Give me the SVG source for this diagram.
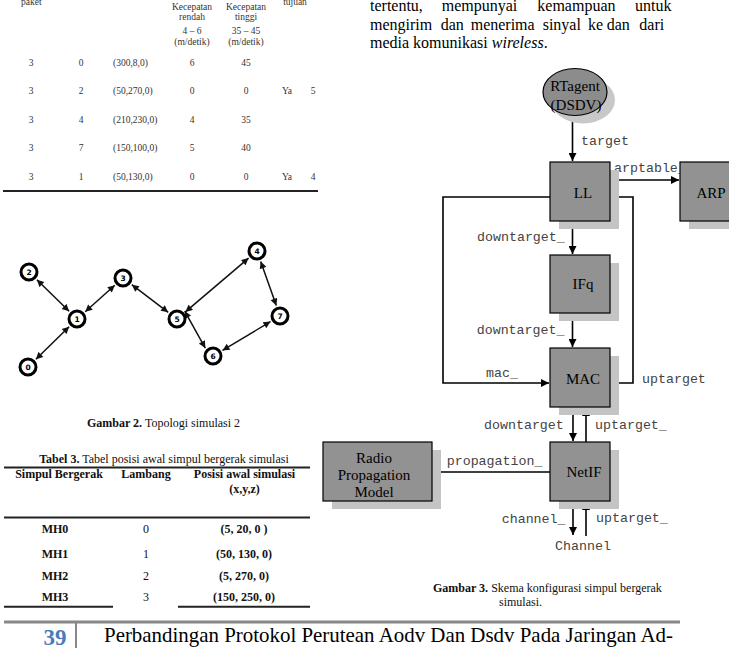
<svg xmlns="http://www.w3.org/2000/svg" width="729" height="648" viewBox="0 0 729 648">
<defs>
<marker id="ah" viewBox="0 0 10 10" refX="10" refY="5" markerWidth="9" markerHeight="8" markerUnits="userSpaceOnUse" orient="auto-start-reverse"><path d="M0,0 L10,5 L0,10 z" fill="#000"/></marker>
<marker id="ahs" viewBox="0 0 10 10" refX="10" refY="5" markerWidth="8" markerHeight="7" markerUnits="userSpaceOnUse" orient="auto-start-reverse"><path d="M0,0 L10,5 L0,10 z" fill="#111"/></marker>
</defs>
<style>
.serif{font-family:"Liberation Serif","Times New Roman",serif}
.tt{font-family:"Liberation Serif",serif;font-size:9.5px;fill:#333}
.mono{font-family:"Liberation Mono","Courier New",monospace;font-size:13.3px;fill:#444}
.box{fill:#929292;stroke:#000;stroke-width:1.2}
.shadow{fill:#c4c4c4}
.bl{font-family:"Liberation Serif",serif;font-size:15px;fill:#000;text-anchor:middle}
.conn{fill:none;stroke:#000;stroke-width:1.6}
.tedge{stroke:#111;stroke-width:1.5;marker-start:url(#ahs);marker-end:url(#ahs)}
.node circle{fill:#fff;stroke:#000;stroke-width:3}
.node text{font-family:"DejaVu Sans",sans-serif;font-size:7.5px;font-weight:bold;text-anchor:middle}
.rule{stroke:#222;stroke-width:2}
.cap{font-family:"Liberation Serif",serif;font-size:12px;fill:#111}
.t3{font-family:"Liberation Serif",serif;font-size:12px;fill:#111;text-anchor:middle}
</style>

<!-- top table fragment -->
<g id="table2">
<text class="tt" x="21" y="5">paket</text>
<text class="tt" x="295" y="5" text-anchor="middle">tujuan</text>
<g text-anchor="middle">
<text class="tt" x="192" y="10">Kecepatan</text>
<text class="tt" x="192" y="20">rendah</text>
<text class="tt" x="192" y="34">4 – 6</text>
<text class="tt" x="192" y="45">(m/detik)</text>
<text class="tt" x="246" y="10">Kecepatan</text>
<text class="tt" x="246" y="20">tinggi</text>
<text class="tt" x="246" y="34">35 – 45</text>
<text class="tt" x="246" y="45">(m/detik)</text>
<text class="tt" x="31" y="66">3</text><text class="tt" x="81" y="66">0</text><text class="tt" x="192" y="66">6</text><text class="tt" x="246" y="66">45</text>
<text class="tt" x="31" y="94">3</text><text class="tt" x="81" y="94">2</text><text class="tt" x="192" y="94">0</text><text class="tt" x="246" y="94">0</text><text class="tt" x="287" y="94">Ya</text><text class="tt" x="313" y="94">5</text>
<text class="tt" x="31" y="123">3</text><text class="tt" x="81" y="123">4</text><text class="tt" x="192" y="123">4</text><text class="tt" x="246" y="123">35</text>
<text class="tt" x="31" y="151">3</text><text class="tt" x="81" y="151">7</text><text class="tt" x="192" y="151">5</text><text class="tt" x="246" y="151">40</text>
<text class="tt" x="31" y="180">3</text><text class="tt" x="81" y="180">1</text><text class="tt" x="192" y="180">0</text><text class="tt" x="246" y="180">0</text><text class="tt" x="287" y="180">Ya</text><text class="tt" x="313" y="180">4</text>
</g>
<text class="tt" x="113" y="66">(300,8,0)</text>
<text class="tt" x="113" y="94">(50,270,0)</text>
<text class="tt" x="113" y="123">(210,230,0)</text>
<text class="tt" x="113" y="151">(150,100,0)</text>
<text class="tt" x="113" y="180">(50,130,0)</text>
<line class="rule" x1="3" y1="191" x2="318" y2="191"/>
</g>

<!-- topology -->
<g id="topo-edges">
<line class="tedge" x1="36.9" y1="279.7" x2="69.1" y2="311.3"/>
<line class="tedge" x1="69.1" y1="326.7" x2="35.9" y2="359.3"/>
<line class="tedge" x1="85.2" y1="311.7" x2="114.8" y2="285.3"/>
<line class="tedge" x1="131.8" y1="284.7" x2="168.2" y2="312.3"/>
<line class="tedge" x1="185.4" y1="311.9" x2="248.6" y2="258.1"/>
<line class="tedge" x1="260.7" y1="261.4" x2="276.3" y2="305.6"/>
<line class="tedge" x1="270.5" y1="321.6" x2="222.5" y2="350.4"/>
<line class="tedge" x1="205.3" y1="348.1" x2="184.7" y2="311.1"/>
</g>
<g id="tn2" class="node"><circle cx="29" cy="272" r="8"/><text x="29" y="275">2</text></g>
<g id="tn1" class="node"><circle cx="77" cy="319" r="8"/><text x="77" y="322">1</text></g>
<g id="tn0" class="node"><circle cx="28" cy="367" r="8"/><text x="28" y="370">0</text></g>
<g id="tn3" class="node"><circle cx="123" cy="278" r="8"/><text x="123" y="281">3</text></g>
<g id="tn5" class="node"><circle cx="177" cy="319" r="8"/><text x="177" y="322">5</text></g>
<g id="tn4" class="node"><circle cx="257" cy="251" r="8"/><text x="257" y="254">4</text></g>
<g id="tn7" class="node"><circle cx="280" cy="316" r="8"/><text x="280" y="319">7</text></g>
<g id="tn6" class="node"><circle cx="213" cy="356" r="8"/><text x="213" y="359">6</text></g>
<text class="cap" x="87" y="427"><tspan font-weight="bold">Gambar 2.</tspan>  Topologi simulasi 2</text>

<!-- table 3 -->
<g id="table3">
<text class="t3" x="164" y="463"><tspan font-weight="bold">Tabel 3.</tspan> Tabel posisi awal simpul bergerak simulasi</text>
<line class="rule" x1="4" y1="467.5" x2="310" y2="467.5"/>
<g font-weight="bold">
<text class="t3" x="59" y="478">Simpul Bergerak</text>
<text class="t3" x="146" y="478">Lambang</text>
<text class="t3" x="244.5" y="478">Posisi awal simulasi</text>
<text class="t3" x="244.5" y="493">(x,y,z)</text>
</g>
<line class="rule" x1="4" y1="517.5" x2="310" y2="517.5"/>
<g font-weight="bold">
<text class="t3" x="55" y="533">MH0</text><text class="t3" x="244" y="533">(5, 20, 0 )</text>
<text class="t3" x="55" y="558">MH1</text><text class="t3" x="244" y="558">(50, 130, 0)</text>
<text class="t3" x="55" y="580">MH2</text><text class="t3" x="244" y="580">(5, 270, 0)</text>
<text class="t3" x="55" y="601">MH3</text><text class="t3" x="244" y="601">(150, 250, 0)</text>
</g>
<text class="t3" x="146" y="533" fill="#444">0</text>
<text class="t3" x="146" y="558" fill="#444">1</text>
<text class="t3" x="146" y="580" fill="#444">2</text>
<text class="t3" x="146" y="601" fill="#444">3</text>
<line class="rule" x1="4" y1="606.7" x2="113" y2="606.7"/>
<line class="rule" x1="178" y1="606.7" x2="310" y2="606.7"/>
</g>

<!-- paragraph -->
<g class="serif" font-size="16" fill="#000">
<text y="11"><tspan x="370">tertentu,</tspan><tspan x="441.7">mempunyai</tspan><tspan x="537.3">kemampuan</tspan><tspan x="635">untuk</tspan></text>
<text y="29.5"><tspan x="370">mengirim</tspan><tspan x="440.7">dan</tspan><tspan x="470.7">menerima</tspan><tspan x="542.7">sinyal</tspan><tspan x="588">ke</tspan><tspan x="606.7">dan</tspan><tspan x="639.3">dari</tspan></text>
<text x="370" y="48">media komunikasi <tspan font-style="italic">wireless</tspan>.</text>
</g>

<!-- config diagram -->
<g id="connectors">
<line class="conn" x1="572.5" y1="115" x2="572.5" y2="161" marker-end="url(#ah)"/>
<line class="conn" x1="610" y1="180" x2="679" y2="180" marker-end="url(#ah)"/>
<path class="conn" d="M550,197 H443 V383 H549" marker-end="url(#ah)"/>
<path class="conn" d="M610,383 H633 V197 H611" marker-end="url(#ah)"/>
<line class="conn" x1="572.5" y1="221" x2="572.5" y2="254" marker-end="url(#ah)"/>
<line class="conn" x1="572.5" y1="313" x2="572.5" y2="347" marker-end="url(#ah)"/>
<line class="conn" x1="573" y1="407" x2="573" y2="441" marker-end="url(#ah)"/>
<line class="conn" x1="586" y1="442" x2="586" y2="408" marker-end="url(#ah)"/>
<line class="conn" x1="550" y1="472" x2="433" y2="472" marker-end="url(#ah)"/>
<line class="conn" x1="573" y1="501" x2="573" y2="535" marker-end="url(#ah)"/>
<line class="conn" x1="586" y1="536" x2="586" y2="502" marker-end="url(#ah)"/>
<text class="mono" x="581" y="145">target</text>
<text class="mono" x="614" y="171.5">arptable_</text>
<text class="mono" x="477" y="240.7">downtarget_</text>
<text class="mono" x="476.7" y="334">downtarget_</text>
<text class="mono" x="486" y="376.5">mac_</text>
<text class="mono" x="642" y="382.7">uptarget</text>
<text class="mono" x="484" y="429.3">downtarget</text>
<text class="mono" x="595" y="429.3">uptarget_</text>
<text class="mono" x="446.7" y="465">propagation_</text>
<text class="mono" x="501.7" y="522.7">channel_</text>
<text class="mono" x="596" y="522">uptarget_</text>
<text class="mono" x="555" y="550">Channel</text>
</g>

<g id="rtagent">
<ellipse cx="583" cy="100" rx="32" ry="23.5" fill="#c8c8c8"/>
<ellipse cx="575" cy="92" rx="32" ry="23.5" fill="#8c8c8c" stroke="#000" stroke-width="1.2"/>
<text class="bl" x="575" y="91">RTagent</text>
<text class="bl" x="576" y="110">(DSDV)</text>
</g>
<g id="ll">
<rect class="shadow" x="559" y="170" width="60" height="59"/>
<rect class="box" x="550" y="162" width="60" height="59"/>
<text class="bl" x="583" y="198">LL</text>
</g>
<g id="arp">
<rect class="shadow" x="689" y="170" width="60" height="59"/>
<rect class="box" x="680" y="162" width="60" height="59"/>
<text class="bl" x="711" y="198">ARP</text>
</g>
<g id="ifq">
<rect class="shadow" x="559" y="263" width="60" height="58"/>
<rect class="box" x="550" y="255" width="60" height="58"/>
<text class="bl" x="583" y="289">IFq</text>
</g>
<g id="mac">
<rect class="shadow" x="559" y="356" width="60" height="59"/>
<rect class="box" x="550" y="348" width="60" height="59"/>
<text class="bl" x="583" y="384">MAC</text>
</g>
<g id="netif">
<rect class="shadow" x="559" y="450" width="60" height="59"/>
<rect class="box" x="550" y="442" width="60" height="59"/>
<text class="bl" x="584" y="477">NetIF</text>
</g>
<g id="rpm">
<rect class="shadow" x="332" y="450" width="109" height="59"/>
<rect class="box" x="323" y="442" width="109" height="59"/>
<text class="bl" x="374" y="462.5">Radio</text>
<text class="bl" x="374" y="479.5">Propagation</text>
<text class="bl" x="374" y="496.5">Model</text>
</g>
<text class="cap" x="433" y="592"><tspan font-weight="bold">Gambar 3.</tspan> Skema konfigurasi simpul bergerak</text>
<text class="cap" x="499" y="606">simulasi.</text>

<!-- footer -->
<g id="footer">
<line x1="4" y1="622" x2="680" y2="622" stroke="#888" stroke-width="3"/>
<line x1="76" y1="622" x2="76" y2="648" stroke="#888" stroke-width="2"/>
<text x="55" y="645" font-family="Liberation Serif,serif" font-size="23" font-weight="bold" fill="#4a7db8" text-anchor="middle">39</text>
<text x="104" y="642" font-family="Liberation Serif,serif" font-size="21" fill="#000" textLength="569" lengthAdjust="spacingAndGlyphs">Perbandingan Protokol Perutean Aodv Dan Dsdv Pada Jaringan Ad-</text>
</g>
</svg>
